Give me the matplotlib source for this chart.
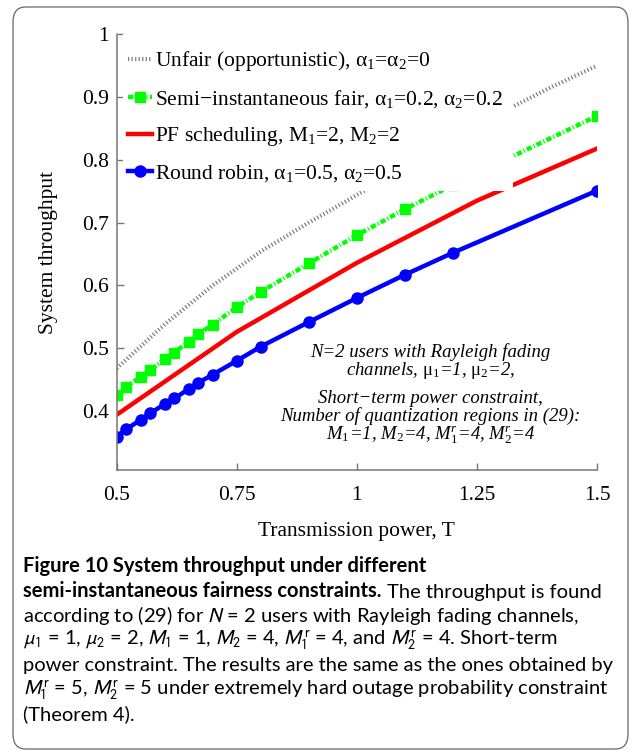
import matplotlib
matplotlib.use("Agg")
import matplotlib.pyplot as plt
from matplotlib.patches import FancyBboxPatch, Rectangle

# data
power = [0.5, 0.52, 0.55, 0.57, 0.6, 0.62, 0.65, 0.67, 0.7, 0.75, 0.8, 0.9, 1.0, 1.1, 1.2, 1.5]
round_robin = [0.359, 0.371, 0.386, 0.3965, 0.411, 0.420, 0.435, 0.445, 0.458, 0.480, 0.5026,
               0.5416, 0.580, 0.617, 0.652, 0.751]
semi_fair = [0.4256, 0.4379, 0.4548, 0.4655, 0.4825, 0.493, 0.5105, 0.5228, 0.5376, 0.5653, 0.5897,
             0.635, 0.680, 0.7213, 0.760, 0.870]
power_pf = [0.5, 0.75, 1.0, 1.25, 1.5]
pf = [0.394, 0.526, 0.636, 0.735, 0.818]
power_unfair = [0.5, 0.6, 0.7, 0.8, 0.9, 1.0, 1.1, 1.2, 1.3, 1.4, 1.5]
unfair = [0.468, 0.538, 0.600, 0.654, 0.700, 0.744, 0.789, 0.833, 0.875, 0.914, 0.95]

xticks = [0.5, 0.75, 1, 1.25, 1.5]
xticklabels = ["0.5", "0.75", "1", "1.25", "1.5"]
yticks = [0.4, 0.5, 0.6, 0.7, 0.8, 0.9, 1.0]
yticklabels = ["0.4", "0.5", "0.6", "0.7", "0.8", "0.9", "1"]

labels = ["Unfair (opportunistic), α$_1$=α$_2$=0",
          "Semi−instantaneous fair, α$_1$=0.2, α$_2$=0.2",
          "PF scheduling, M$_1$=2, M$_2$=2",
          "Round robin, α$_1$=0.5, α$_2$=0.5"]

note1 = ("N=2 users with Rayleigh fading\n"
         "channels, $\\mathrm{μ}_{\\mathit{1}}$=1, $\\mathrm{μ}_{\\mathit{2}}$=2,")
note2 = ("Short−term power constraint,\n"
         "Number of quantization regions in (29):\n"
         "M$_{\\mathit{1}}$=1, M$_{\\mathit{2}}$=4, M$^{\\mathit{r}}_{\\mathit{1}}$=4, M$^{\\mathit{r}}_{\\mathit{2}}$=4")

plt.rcParams['font.family'] = ['Liberation Serif', 'DejaVu Serif']
plt.rcParams['mathtext.fontset'] = 'custom'
plt.rcParams['mathtext.rm'] = 'Liberation Serif'
plt.rcParams['mathtext.it'] = 'Liberation Serif:italic'
plt.rcParams['mathtext.bf'] = 'Liberation Serif:bold'

W, H = 635, 752
fig = plt.figure(figsize=(W / 100, H / 100), dpi=100)


def fx(px):
    return px / W


def fy(py):
    return 1 - py / H


# rounded frame around the whole figure
frame = FancyBboxPatch((fx(13), fy(749)), fx(628) - fx(13), fy(7) - fy(749),
                       boxstyle="round,pad=0,rounding_size=0.02",
                       transform=fig.transFigure, facecolor='none',
                       edgecolor='#666666', linewidth=0.9)
fig.patches.append(frame)

ax = fig.add_axes([fx(116.7), fy(470), fx(597) - fx(116.7), fy(34.3) - fy(470)])

ax.plot(power_unfair, unfair, color='#808080', linewidth=3.0, dashes=(0.3, 0.55),
        label=labels[0], zorder=2)
ax.plot(power, semi_fair, color='#00ff00', linewidth=3.2, dashes=(1.2, 0.5, 0.25, 0.5),
        marker='s', markersize=7.5, label=labels[1], zorder=2)
ax.plot(power_pf, pf, color='#ff0000', linewidth=3.2, label=labels[2], zorder=2)
ax.plot(power, round_robin, color='#0000ff', linewidth=3.2, marker='o', markersize=8,
        label=labels[3], zorder=2)

ax.set_xlim(0.5, 1.5)
ax.set_ylim(0.306, 1.0)
ax.set_xticks(xticks)
ax.set_xticklabels(xticklabels)
ax.set_yticks(yticks)
ax.set_yticklabels(yticklabels)

for s in ['top', 'right']:
    ax.spines[s].set_visible(False)
for s in ['left', 'bottom']:
    ax.spines[s].set_color('#777777')
    ax.spines[s].set_linewidth(1.1)
ax.tick_params(direction='in', length=5, width=1, color='#777777', labelsize=15.5)
ax.tick_params(axis='x', pad=11.5)
ax.tick_params(axis='y', pad=5.5)

ax.set_xlabel("Transmission power, T", fontsize=15.5)
ax.xaxis.set_label_coords(0.5, -0.119)
ax.set_ylabel("System throughput", fontsize=15.5)
ax.yaxis.set_label_coords(-0.122, 0.5)

# white box behind the legend hides the curves, like in the original
ax.add_patch(Rectangle((0.013, 0.640), 0.813, 0.36, transform=ax.transAxes,
                       facecolor='white', edgecolor='none', zorder=2.6))
leg = ax.legend(loc='upper left', bbox_to_anchor=(0.006, 0.985), frameon=False,
                fontsize=15.5, handlelength=1.12, handletextpad=0.12,
                labelspacing=0.7, borderaxespad=0.0, borderpad=0.4)
leg.set_zorder(5)

ax.text(1.153, 0.4775, note1, ha='center', va='center', style='italic',
        fontsize=13.5, linespacing=0.95, zorder=4)
ax.text(1.153, 0.3888, note2, ha='center', va='center', style='italic',
        fontsize=13.5, linespacing=0.95, zorder=4)

# caption below the chart
cap_font = 'Lato'
cap_size = 14.5
x0 = fx(23)
fig.text(x0, fy(566), "Figure 10 System throughput under different", family=cap_font,
         weight='bold', fontsize=cap_size, va='center')
t_bold = fig.text(x0, fy(591), "semi-instantaneous fairness constraints.", family=cap_font,
                  weight='bold', fontsize=cap_size, va='center')
ax.annotate(" The throughput is found", xy=(1, 0), xycoords=t_bold, va='bottom', ha='left',
            family=cap_font, fontsize=cap_size, annotation_clip=False)
fig.text(x0, fy(615.5), "according to (29) for $N$ = 2 users with Rayleigh fading channels,",
         family=cap_font, fontsize=cap_size, va='center', math_fontfamily='stixsans')
fig.text(x0, fy(640), "$\\mu_1$ = 1, $\\mu_2$ = 2, $M_1$ = 1, $M_2$ = 4, $M_1^{\\mathrm{r}}$ = 4, "
         "and $M_2^{\\mathrm{r}}$ = 4. Short-term",
         family=cap_font, fontsize=cap_size, va='center', math_fontfamily='stixsans')
fig.text(x0, fy(665), "power constraint. The results are the same as the ones obtained by",
         family=cap_font, fontsize=cap_size, va='center')
fig.text(x0, fy(690), "$M_1^{\\mathrm{r}}$ = 5, $M_2^{\\mathrm{r}}$ = 5 under extremely hard outage "
         "probability constraint",
         family=cap_font, fontsize=cap_size, va='center', math_fontfamily='stixsans')
fig.text(x0, fy(714), "(Theorem 4).", family=cap_font, fontsize=cap_size, va='center')

fig.savefig("out.png", dpi=100)
